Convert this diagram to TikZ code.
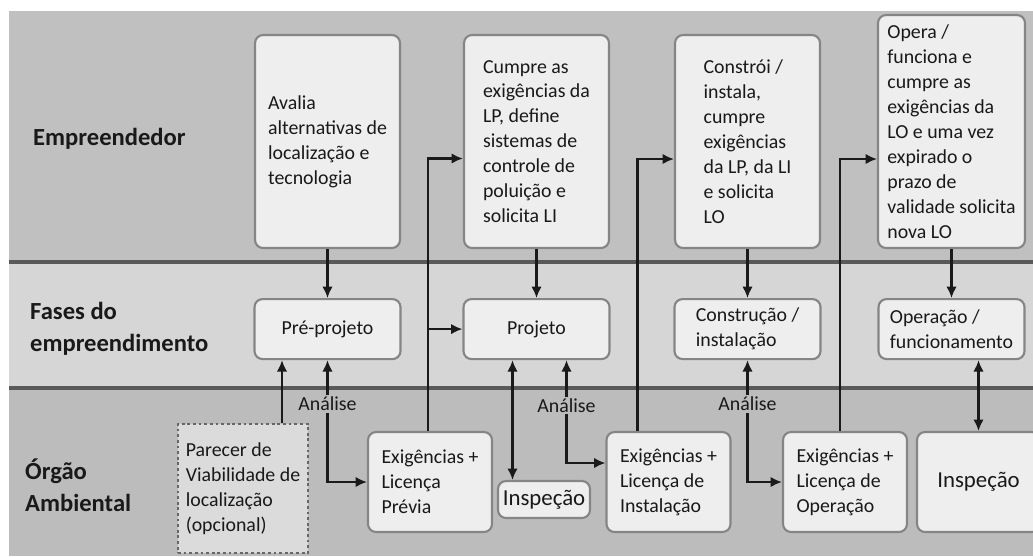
\documentclass[tikz,border=0pt]{standalone}
\usepackage{fontspec}
\setmainfont{Carlito}
\usetikzlibrary{arrows.meta,positioning,calc}
\definecolor{bandtop}{HTML}{C0C0C0}
\definecolor{bandmid}{HTML}{D6D6D6}
\definecolor{bandbot}{HTML}{BCBCBC}
\definecolor{boxfill}{HTML}{EEEEEE}
\definecolor{boxline}{HTML}{858585}
\definecolor{wire}{HTML}{1A1A1A}

\begin{document}
\begin{tikzpicture}[
    x=0.02cm, y=-0.02cm,
    every node/.style={font=\fontsize{11.3}{14.2}\selectfont, text=black!90},
    task/.style={rectangle, draw=boxline, line width=1.2pt, fill=boxfill, rounded corners=0.16cm, minimum width=2.9cm, minimum height=4.26cm, align=left},
    phase/.style={task, minimum width=2.92cm, minimum height=1.2cm},
    license/.style={task, minimum width=2.48cm, minimum height=2cm},
    optional/.style={rectangle, draw=black!60, line width=1.3pt, dash pattern=on 1.6pt off 1.6pt, fill=boxfill!92!black, minimum width=2.6cm, minimum height=2.58cm, align=left},
    inspect/.style={task, font=\fontsize{13}{16}\selectfont, inner sep=2pt},
    lane/.style={font=\fontsize{14}{18}\selectfont\bfseries, align=left, anchor=west},
    tag/.style={inner sep=1pt, fill=bandbot},
    arrow/.style={-{Latex[length=6.5pt,width=6pt]}, line width=1.4pt, draw=wire},
    dblarrow/.style={{Latex[length=6.5pt,width=6pt]}-{Latex[length=6.5pt,width=6pt]}, line width=1.4pt, draw=wire}
]

\useasboundingbox (0,0) rectangle (1033,556);
\clip (0,0) rectangle (1033,556);

% Swimlanes
\fill[bandtop] (9,11) rectangle (1033,262);
\fill[bandmid] (9,262) rectangle (1033,388);
\fill[bandbot] (9,388) rectangle (1033,556);
\draw[black!65, line width=1.8pt] (9,262) -- (1033,262) (9,388) -- (1033,388);

% Lane titles
\node[lane] (empreendedor) at (27,139) {Empreendedor};
\node[lane] (fases) at (24,329) {Fases do\\empreendimento};
\node[lane] (orgao) at (19,485) {Órgão\\Ambiental};

% Empreendedor
\node[task] (avalia) at (327.5,141.5) {Avalia\\alternativas de\\localização e\\tecnologia};
\node[task] (cumpre) at (536.5,141.5) {Cumpre as\\exigências da\\LP, define\\sistemas de\\controle de\\poluição e\\solicita LI};
\node[task] (constroi) at (747.5,141.5) {Constrói /\\instala,\\cumpre\\exigências\\da LP, da LI\\e solicita\\LO};
\node[task, minimum width=2.94cm, minimum height=4.66cm] (opera) at (951.5,131.5) {Opera /\\funciona e\\cumpre as\\exigências da\\LO e uma vez\\expirado o\\prazo de\\validade solicita\\nova LO};

% Fases do empreendimento
\node[phase, below=0.98cm of avalia] (preprojeto) {Pré-projeto};
\node[phase, below=0.98cm of cumpre] (projeto) {Projeto};
\node[phase, below=0.98cm of constroi] (construcao) {Construção /\\instalação};
\node[phase, below=0.98cm of opera] (operacao) {Operação /\\funcionamento};

% Orgao ambiental
\node[optional] (parecer) at (243,488.5) {Parecer de\\Viabilidade de\\localização\\(opcional)};
\node[license] (lp) at (430,482) {Exigências +\\Licença\\Prévia};
\node[inspect, minimum width=1.84cm, minimum height=0.74cm] (inspA) at (544,499.5) {Inspeção};
\node[license] (li) at (668.5,482) {Exigências +\\Licença de\\Instalação};
\node[license] (lo) at (845,482) {Exigências +\\Licença de\\Operação};
\node[inspect, minimum width=2.46cm, minimum height=2cm] (inspB) at (978.5,482) {Inspeção};

% Connections
\draw[arrow] (avalia.south) -- (avalia.south |- preprojeto.north);
\draw[arrow] (cumpre.south) -- (cumpre.south |- projeto.north);
\draw[arrow] (constroi.south) -- (constroi.south |- construcao.north);
\draw[arrow] (opera.south) -- (opera.south |- operacao.north);

\coordinate (lpup) at ($(lp.north)+(-2,0)$);
\draw[arrow] (lpup) |- ($(cumpre.west)+(0,17)$);
\draw[arrow] (lpup |- projeto.west) -- (projeto.west);
\coordinate (liup) at ($(li.north)+(-31,0)$);
\draw[arrow] (liup) |- ($(constroi.west)+(0,17.5)$);
\coordinate (loup) at ($(lo.north)+(-5,0)$);
\draw[arrow] (loup) |- ($(opera.west)+(0,27.5)$);

\coordinate (parup) at ($(parecer.north)+(39,0)$);
\draw[arrow] (parup) -- (parup |- preprojeto.south);

\draw[dblarrow] (preprojeto.south) |- (lp.west) node[tag, pos=0.18] {Análise};
\coordinate (projr) at ($(projeto.south)+(30,0)$);
\draw[dblarrow] (projr) |- ($(li.west)+(0,-19)$) node[tag, pos=0.22] {Análise};
\draw[dblarrow] (construcao.south) |- (lo.west) node[tag, pos=0.18] {Análise};

\coordinate (projl) at ($(projeto.south)+(-24,0)$);
\draw[dblarrow] (projl) -- (projl |- inspA.north);
\draw[dblarrow] (inspB.north |- operacao.south) -- (inspB.north);

\end{tikzpicture}
\end{document}
